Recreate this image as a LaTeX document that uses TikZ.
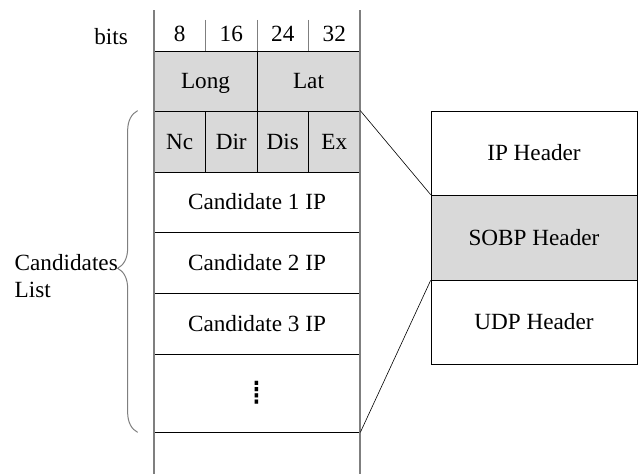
\documentclass[tikz,border=0pt]{standalone}
\usepackage{fontspec}
\setmainfont{Liberation Serif}
\newfontfamily\dotsfont{DejaVu Sans}
\usetikzlibrary{decorations.pathreplacing}
\definecolor{cellgray}{HTML}{D9D9D9}
\definecolor{rulegray}{HTML}{7F7F7F}

\tikzset{
  cell/.style={draw=black, line width=0.7pt, inner sep=0pt,
    text height=15.3pt, text depth=0pt},
  shaded/.style={cell, fill=cellgray},
  bitcell/.style={inner sep=0pt, minimum width=51.5pt, minimum height=31pt,
    text height=15.3pt, text depth=0pt},
}

\begin{document}
\begin{tikzpicture}[x=1pt, y=-1pt, font=\rmfamily\fontsize{23.2}{27}\selectfont]
\useasboundingbox (0,0) rectangle (638,474);

% bit scale
\node[bitcell] (b8)  at (179.75,34) {8};
\node[bitcell] (b16) at (231.25,34) {16};
\node[bitcell] (b24) at (282.75,34) {24};
\node[bitcell] (b32) at (334.25,34) {32};
\node[anchor=base east, inner sep=0pt] (bits) at (128,44) {bits};
\draw[rulegray, line width=0.9pt] ([yshift=-1.5pt]b8.north east) -- ([yshift=-3.5pt]b8.south east);
\draw[rulegray, line width=0.9pt] ([yshift=-1.5pt]b16.north east) -- ([yshift=-3.5pt]b16.south east);
\draw[rulegray, line width=0.9pt] ([yshift=-1.5pt]b24.north east) -- ([yshift=-3.5pt]b24.south east);

% packet fields
\node[shaded, minimum width=103pt, minimum height=60pt] (long) at (205.5,81) {Long};
\node[shaded, minimum width=103pt, minimum height=60pt] (lat)  at (308.5,81) {Lat};

\node[shaded, minimum width=51.5pt, minimum height=61pt] (nc)  at (179.75,141.5) {Nc};
\node[shaded, minimum width=51.5pt, minimum height=61pt] (dir) at (231.25,141.5) {Dir};
\node[shaded, minimum width=51.5pt, minimum height=61pt] (dis) at (282.75,141.5) {Dis};
\node[shaded, minimum width=51.5pt, minimum height=61pt] (ex)  at (334.25,141.5) {Ex};

\node[cell, minimum width=206pt, minimum height=60pt] (cand1) at (257,202) {Candidate 1 IP};
\node[cell, minimum width=206pt, minimum height=61pt] (cand2) at (257,262.5) {Candidate 2 IP};
\node[cell, minimum width=206pt, minimum height=61pt] (cand3) at (257,323.5) {Candidate 3 IP};
\node[cell, minimum width=206pt, minimum height=78pt, text height=, text depth=] (more) at (257,393) {\dotsfont\fontsize{34}{34}\selectfont ⁞};

% long side rules
\draw[rulegray, line width=1.1pt] (154,10) -- (154,474);
\draw[rulegray, line width=1.1pt] (360,10) -- (360,474);

% header stack
\node[cell, minimum width=206pt, minimum height=84pt] (iphdr)   at (534,153) {IP Header};
\node[shaded, minimum width=206pt, minimum height=85pt] (sobphdr) at (534,237.5) {SOBP Header};
\node[cell, minimum width=206pt, minimum height=84pt] (udphdr)  at (534,322) {UDP Header};

\draw[line width=0.6pt] (ex.north east) -- (sobphdr.north west);
\draw[line width=0.6pt] (more.south east) -- (sobphdr.south west);

% candidates brace
\draw[rulegray, line width=1pt, decorate, decoration={brace, amplitude=20pt, aspect=0.51}]
  ([xshift=-16pt]more.south west) -- ([xshift=-16pt]nc.north west);
\node[anchor=east, align=left, inner sep=0pt] (candlist) at (118,276) {Candidates\\List};
\end{tikzpicture}
\end{document}
